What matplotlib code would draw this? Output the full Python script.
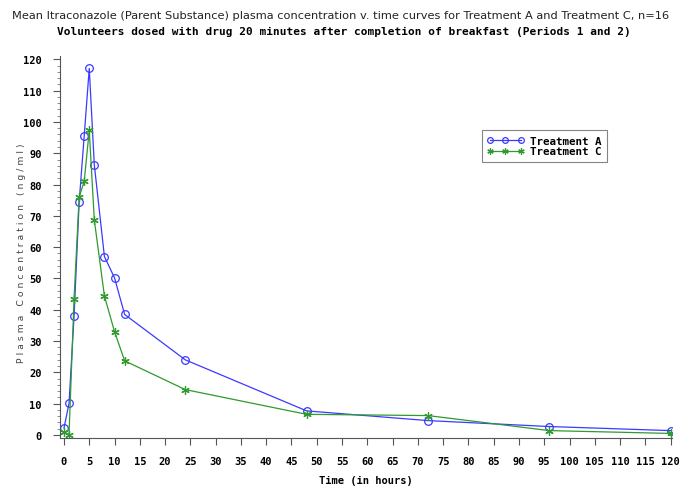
import matplotlib
matplotlib.use("Agg")
import matplotlib.pyplot as plt
from matplotlib.ticker import MultipleLocator

# sampling times (hours) and mean concentrations (ng/ml)
time = [0, 1, 2, 3, 4, 5, 6, 8, 10, 12, 24, 48, 72, 96, 120]
treat_a = [2.2, 10.1, 38.1, 74.3, 95.5, 117.1, 86.3, 57.0, 50.2, 38.5, 24.0, 7.7, 4.6, 2.7, 1.4]
treat_c = [0.8, 0.1, 43.6, 76.0, 81.0, 97.3, 68.7, 44.4, 33.0, 23.7, 14.5, 6.6, 6.2, 1.4, 0.5]
x_ticks = list(range(0, 121, 5))
y_ticks = list(range(0, 121, 10))

blue = "#3a3aff"
green = "#2f9a2f"
mono = {"family": "DejaVu Sans Mono", "weight": "bold"}

fig = plt.figure(figsize=(6.81, 4.89), dpi=100)
ax = fig.add_axes([0.088, 0.102, 0.899, 0.781])

ax.plot(time, treat_a, color=blue, lw=0.9, marker="o", ms=5.5, mfc="none",
        mec=blue, mew=0.9, label="Treatment A")
ax.plot(time, treat_c, color=green, lw=0.9, marker=(6, 2, 0), ms=6,
        mec=green, mew=0.9, label="Treatment C")

ax.set_xlim(-0.8, 120.3)
ax.set_ylim(-1.0, 121)
ax.set_xticks(x_ticks)
ax.set_yticks(y_ticks)
ax.yaxis.set_minor_locator(MultipleLocator(2))
ax.tick_params(axis="both", which="major", length=5, width=0.8, color="#555555",
               labelsize=7.5, pad=8)
ax.tick_params(axis="y", which="minor", length=2.5, width=0.6, color="#777777")
for lab in ax.get_xticklabels() + ax.get_yticklabels():
    lab.set_fontproperties(mono)
    lab.set_fontsize(7.5)

for side in ["top", "right"]:
    ax.spines[side].set_visible(False)
for side in ["left", "bottom"]:
    ax.spines[side].set_color("#555555")
    ax.spines[side].set_linewidth(0.8)

ax.set_xlabel("Time (in hours)", fontdict=mono, fontsize=7.5, labelpad=6)
ax.set_ylabel(" ".join("Plasma Concentration (ng/ml)"),
              family="DejaVu Sans", fontsize=6.7, color="#444444")
ax.yaxis.set_label_coords(-0.055, 0.487)

fig.text(0.5, 0.967, "Mean Itraconazole (Parent Substance) plasma concentration v. time curves "
         "for Treatment A and Treatment C, n=16", ha="center", va="center",
         family="Liberation Sans Narrow", fontsize=8.2, color="#222222")
fig.text(0.505, 0.935, "Volunteers dosed with drug 20 minutes after completion of breakfast "
         "(Periods 1 and 2)", ha="center", va="center", fontdict=mono, fontsize=8)

leg = ax.legend(loc="upper left", bbox_to_anchor=(0.68, 0.82), frameon=True,
                fancybox=False, edgecolor="#666666", prop={**mono, "size": 7.8},
                handlelength=3.4, borderpad=0.5, labelspacing=0.05, markerscale=0.75,
                handletextpad=0.6, numpoints=3)
leg.get_frame().set_linewidth(0.8)

fig.savefig("out.png", dpi=100)
